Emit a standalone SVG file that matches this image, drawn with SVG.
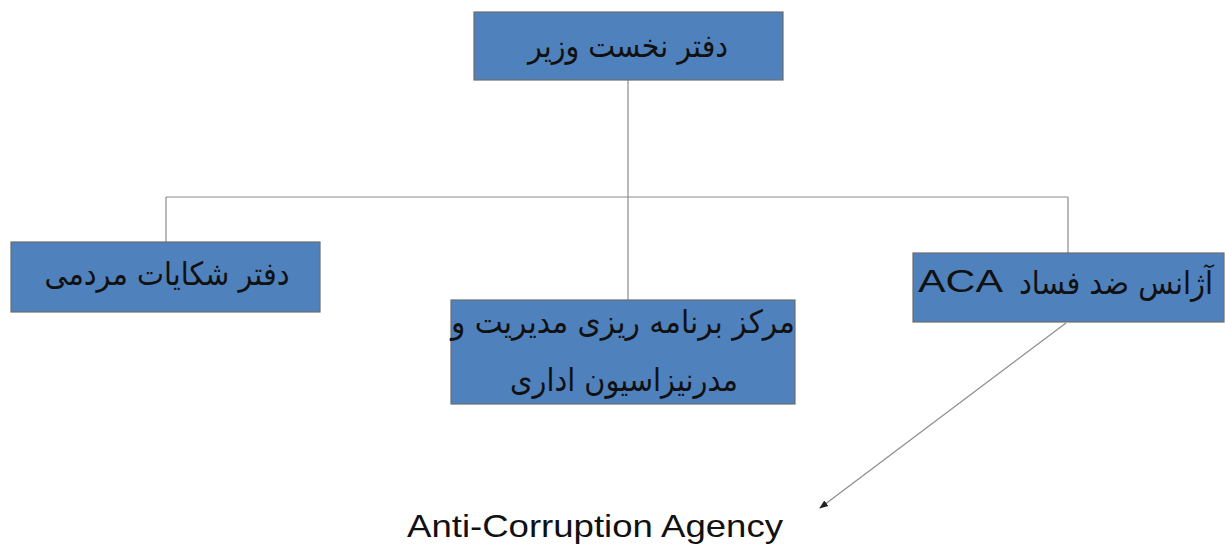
<svg xmlns="http://www.w3.org/2000/svg" width="1225" height="547" viewBox="0 0 1225 547">
<style>
.box{fill:#4f81bd;stroke:#6d6d6d;stroke-width:1.2}
.fa{font-family:"DejaVu Sans","Noto Sans",sans-serif;font-size:32px;fill:#111}
.en{font-family:"Liberation Sans",Arial,sans-serif;font-size:32px;fill:#111}
.ln{stroke:#8c8c8c;stroke-width:1.2;fill:none}
</style>
<defs>
<marker id="ah" markerWidth="9" markerHeight="9" refX="8" refY="4.5" orient="auto" markerUnits="userSpaceOnUse">
<path d="M0,1 L9,4.5 L0,8 Z" fill="#222"/>
</marker>
</defs>
<rect width="1225" height="547" fill="#fff"/>
<g id="connectors">
<line class="ln" x1="628" y1="80" x2="628" y2="300"/>
<line class="ln" x1="166" y1="197" x2="1068" y2="197"/>
<line class="ln" x1="166" y1="197" x2="166" y2="242"/>
<line class="ln" x1="1068" y1="197" x2="1068" y2="253"/>
<line x1="1066" y1="323" x2="820" y2="508" stroke="#8c8c8c" stroke-width="1.2" marker-end="url(#ah)"/>
</g>
<g id="node-top">
<rect class="box" x="474" y="12" width="309" height="68"/>
<text class="fa" x="628" y="57" text-anchor="middle" textLength="200" lengthAdjust="spacingAndGlyphs">دفتر نخست وزیر</text>
</g>
<g id="node-left">
<rect class="box" x="11" y="242" width="309" height="70"/>
<text class="fa" x="167" y="285" text-anchor="middle" textLength="245" lengthAdjust="spacingAndGlyphs">دفتر شکایات مردمی</text>
</g>
<g id="node-middle">
<rect class="box" x="451" y="300" width="344" height="104"/>
<text class="fa" x="623" y="333" text-anchor="middle" textLength="344" lengthAdjust="spacingAndGlyphs">مرکز برنامه ریزی مدیریت و</text>
<text class="fa" x="624" y="391" text-anchor="middle" textLength="228" lengthAdjust="spacingAndGlyphs">مدرنیزاسیون اداری</text>
</g>
<g id="node-right">
<rect class="box" x="913" y="253" width="311" height="69"/>
<text class="fa" x="1116" y="294" font-size="29" text-anchor="middle" textLength="194" lengthAdjust="spacingAndGlyphs">آژانس ضد فساد</text>
<text class="en" x="918" y="292" font-size="40" textLength="85" lengthAdjust="spacingAndGlyphs">ACA</text>
</g>
<g id="label-aca">
<text class="en" x="595" y="537" text-anchor="middle" textLength="376" lengthAdjust="spacingAndGlyphs">Anti-Corruption Agency</text>
</g>
</svg>
